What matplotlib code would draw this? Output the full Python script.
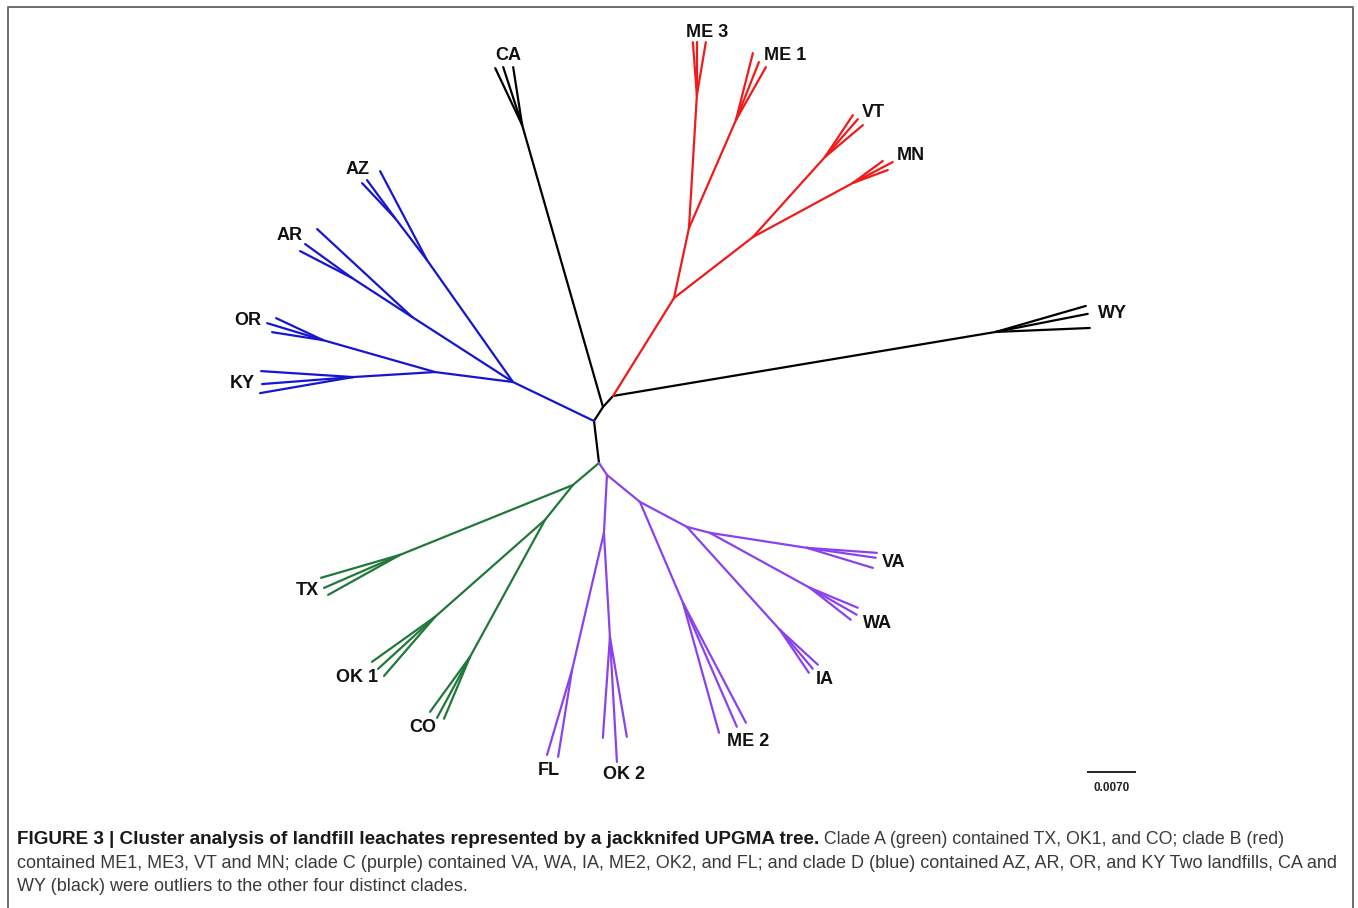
import numpy as np
import matplotlib.pyplot as plt
from matplotlib.lines import Line2D

plt.rcParams['font.family'] = ['Liberation Sans', 'DejaVu Sans']

# unrooted jackknifed UPGMA tree
# each branch: (parent, child, length in 1e-3 units, angle in degrees)
backbone = [("n1", "n2", 2.48, 57.3), ("n2", "n3", 2.22, 47.7),
            ("n1", "n4", 6.30, -83.2)]

outliers = [("n2", "ca", 43.70, 106.0),
            ("ca", "CA1", 9.39, 115.3), ("ca", "CA2", 9.09, 108.1), ("ca", "CA3", 8.74, 98.8),
            ("n3", "wy", 57.83, 9.5),
            ("wy", "WY1", 13.96, 16.1), ("wy", "WY2", 13.96, 11.1), ("wy", "WY3", 14.02, 2.4)]

clade_b = [("n3", "r1", 17.19, 58.1), ("r1", "r2", 10.66, 77.9),
           ("r2", "me3", 19.84, 86.6),
           ("me3", "ME3a", 7.92, 94.3), ("me3", "ME3b", 7.89, 90.0), ("me3", "ME3c", 8.01, 80.4),
           ("r2", "me1", 17.55, 66.5),
           ("me1", "ME1a", 10.29, 75.8), ("me1", "ME1b", 9.29, 68.4), ("me1", "ME1c", 9.07, 60.5),
           ("r1", "r3", 14.86, 37.7),
           ("r3", "vt", 16.03, 48.0),
           ("vt", "VTa", 7.52, 56.3), ("vt", "VTb", 7.49, 49.0), ("vt", "VTc", 7.40, 40.1),
           ("r3", "mn", 16.92, 28.4),
           ("mn", "MNa", 5.54, 36.3), ("mn", "MNb", 6.73, 27.7), ("mn", "MNc", 5.56, 20.4)]

clade_d = [("n1", "b1", 13.39, 154.3),
           ("b1", "az", 22.24, 125.2), ("az", "AZc", 14.98, 117.8), ("az", "az2", 7.86, 127.3),
           ("az2", "AZa", 7.16, 133.3), ("az2", "AZb", 7.03, 126.4),
           ("b1", "ar", 17.89, 147.2), ("ar", "ARa", 19.29, 137.2), ("ar", "ar2", 10.66, 147.0),
           ("ar2", "ARb", 8.64, 144.1), ("ar2", "ARc", 8.73, 152.6),
           ("b1", "b3", 11.71, 172.7),
           ("b3", "or", 17.35, 164.1),
           ("or", "ORa", 7.73, 154.9), ("or", "ORb", 8.71, 163.1), ("or", "ORc", 7.69, 171.1),
           ("b3", "ky", 12.24, 183.5),
           ("ky", "KYa", 13.73, 176.3), ("ky", "KYb", 13.60, 184.4), ("ky", "KYc", 14.06, 189.8)]

clade_a = [("n4", "g1", 5.08, 220.2),
           ("g1", "tx", 27.79, 202.0),
           ("tx", "TXa", 12.26, 196.2), ("tx", "TXb", 12.35, 203.5), ("tx", "TXc", 12.27, 209.1),
           ("g1", "g2", 6.67, 231.3),
           ("g2", "ok1", 21.85, 221.4),
           ("ok1", "OK1a", 11.53, 215.5), ("ok1", "OK1b", 11.50, 222.4), ("ok1", "OK1c", 11.62, 229.2),
           ("g2", "co", 23.26, 241.3),
           ("co", "COa", 10.13, 234.0), ("co", "COb", 10.34, 241.6), ("co", "COc", 10.01, 247.2)]

clade_c = [("n4", "p1", 2.14, 303.7),
           ("p1", "pf", 8.65, 267.0),
           ("pf", "fl", 20.96, 256.9), ("fl", "FLa", 13.20, 253.6), ("fl", "FLb", 13.12, 260.9),
           ("pf", "ok2", 15.52, 273.3),
           ("ok2", "OK2a", 15.07, 266.0), ("ok2", "OK2b", 18.65, 273.2), ("ok2", "OK2c", 15.10, 279.6),
           ("p1", "p2", 6.34, 320.7),
           ("p2", "me2", 16.35, 293.1),
           ("me2", "ME2a", 20.09, 285.5), ("me2", "ME2b", 20.14, 293.5), ("me2", "ME2c", 20.18, 297.7),
           ("p2", "p3", 7.92, 332.0),
           ("p3", "ia", 20.67, 312.1),
           ("ia", "IAa", 7.73, 304.0), ("ia", "IAb", 7.61, 310.2), ("ia", "IAc", 7.70, 317.4),
           ("p3", "p4", 3.54, 345.4),
           ("p4", "va", 14.63, 351.2),
           ("va", "VAa", 10.46, 355.9), ("va", "VAb", 10.38, 351.8), ("va", "VAc", 10.28, 343.1),
           ("p4", "wa", 16.99, 331.2),
           ("wa", "WAa", 7.75, 337.4), ("wa", "WAb", 8.07, 330.1), ("wa", "WAc", 7.75, 322.0)]

# landfill labels, the tip they sit next to, offset in pixels
tip_names = ["CA", "ME 3", "ME 1", "VT", "MN", "WY", "AZ", "AR", "OR", "KY",
             "TX", "OK 1", "CO", "FL", "OK 2", "ME 2", "IA", "WA", "VA"]
tip_refs = ["CA2", "ME3b", "ME1b", "VTa", "MNb", "WY2", "AZb", "ARb", "ORb", "KYb",
            "TXb", "OK1b", "COb", "FLa", "OK2b", "ME2a", "IAa", "WAb", "VAb"]
label_dx = [5, 10, 26, 21, 18, 25, -9, -16, -19, -20, -17, -21, -14, 2, 7, 29, 16, 21, 18]
label_dy = [12, 10, 7, 3, 7, 0, 11, 9, 3, 1, -3, -9, -10, -16, -13, -9, -7, -9, -5]

scale_value = 7.0   # 0.0070

groups = [(backbone, "black"), (outliers, "black"), (clade_b, "#f01a1a"),
          (clade_d, "#1616d0"), (clade_a, "#22783a"), (clade_c, "#8a42ee")]

W, H = 1358, 908
fig = plt.figure(figsize=(W / 100, H / 100), dpi=100)
ax = fig.add_axes([0, 0, 1, 1])
px = 6.711   # pixels per 1e-3 unit
cx, cy = 594, 421   # where node n1 sits
ax.set_xlim(-cx / px, (W - cx) / px)
ax.set_ylim(-(H - cy) / px, cy / px)
ax.axis("off")

pos = {"n1": (0.0, 0.0)}
for edges, col in groups:
    for par, ch, ln, ang in edges:
        x0, y0 = pos[par]
        a = np.deg2rad(ang)
        pos[ch] = (x0 + ln * np.cos(a), y0 + ln * np.sin(a))
        ax.plot([x0, pos[ch][0]], [y0, pos[ch][1]], color=col, lw=1.6,
                solid_capstyle="round")

for name, ref, dx, dy in zip(tip_names, tip_refs, label_dx, label_dy):
    ax.annotate(name, pos[ref], xytext=(dx, dy), textcoords="offset pixels",
                ha="center", va="center", fontsize=13, fontweight="bold", color="#111111")

# scale bar
sx, sy = (1088 - cx) / px, (cy - 772) / px
ax.plot([sx, sx + scale_value], [sy, sy], color="#222222", lw=1.4)
ax.annotate("0.0070", (sx + scale_value / 2, sy), xytext=(0, -16), textcoords="offset pixels",
            ha="center", va="center", fontsize=8.5, fontweight="bold", color="#222222")

# frame
fig.add_artist(Line2D([7.5 / W, 7.5 / W, 1353 / W, 1353 / W],
                      [0, 1 - 7 / H, 1 - 7 / H, 0], color="#6b6b6b", lw=1.4))

# caption
fs = 12.95
x0 = 17 / W
t1 = fig.text(x0, 1 - 844 / H, "FIGURE 3 | Cluster analysis of landfill leachates represented by a jackknifed UPGMA tree.",
              fontsize=13.55, fontweight="bold", color="#1a1a1a", va="baseline")
ax.annotate(" Clade A (green) contained TX, OK1, and CO; clade B (red)", xy=(1, 0), xycoords=t1,
            va="bottom", ha="left", fontsize=12.75, color="#3a3a3a", annotation_clip=False)
fig.text(x0, 1 - 868 / H, "contained ME1, ME3, VT and MN; clade C (purple) contained VA, WA, IA, ME2, OK2, and FL; "
         "and clade D (blue) contained AZ, AR, OR, and KY Two landfills, CA and",
         fontsize=fs, color="#3a3a3a", va="baseline")
fig.text(x0, 1 - 891 / H, "WY (black) were outliers to the other four distinct clades.",
         fontsize=fs, color="#3a3a3a", va="baseline")

fig.savefig("out.png", dpi=100)
